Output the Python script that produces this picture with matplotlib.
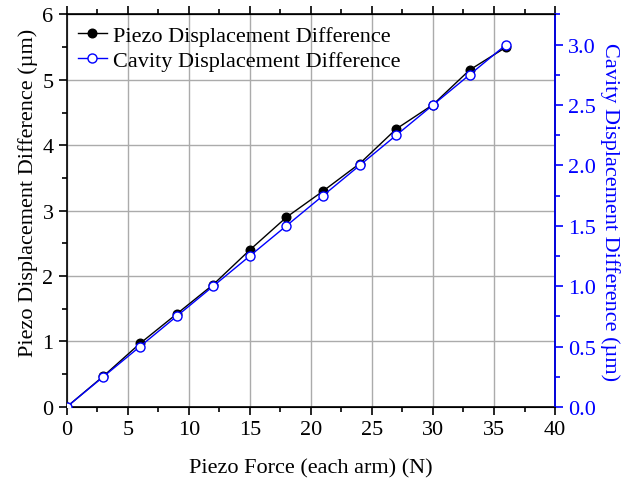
import matplotlib.pyplot as plt
from matplotlib.ticker import MultipleLocator

plt.rcParams['font.family'] = ['Liberation Serif', 'DejaVu Serif']
plt.rcParams['mathtext.fontset'] = 'stix'

# Data
force = [0, 3, 6, 9, 12, 15, 18, 21, 24, 27, 30, 33, 36]
piezo_disp = [0, 0.47, 0.97, 1.42, 1.87, 2.40, 2.90, 3.30, 3.72, 4.25, 4.62, 5.15, 5.50]
cavity_disp = [0, 0.25, 0.50, 0.75, 1.00, 1.25, 1.50, 1.75, 2.00, 2.25, 2.50, 2.75, 3.00]

fig = plt.figure(figsize=(6.3, 4.81), dpi=100)
ax = fig.add_axes([0.106, 0.152, 0.775, 0.816])
ax2 = ax.twinx()

ax.grid(True, color='#ababab', linewidth=1.0)
ax.set_axisbelow(True)

l1, = ax.plot(force, piezo_disp, color='black', linewidth=1.0, marker='o',
              markersize=6.2, markerfacecolor='black', markeredgecolor='black',
              label='Piezo Displacement Difference', zorder=3)
l2, = ax2.plot(force, cavity_disp, color='blue', linewidth=1.0, marker='o',
               markersize=6.5, markerfacecolor='white', markeredgecolor='blue',
               label='Cavity Displacement Difference', zorder=4)

ax.set_xlim(0, 40)
ax.set_ylim(0, 6)
ax2.set_ylim(0, 3.25)

ax.xaxis.set_major_locator(MultipleLocator(5))
ax.xaxis.set_minor_locator(MultipleLocator(2.5))
ax.yaxis.set_major_locator(MultipleLocator(1))
ax.yaxis.set_minor_locator(MultipleLocator(0.5))
ax2.yaxis.set_major_locator(MultipleLocator(0.5))
ax2.yaxis.set_minor_locator(MultipleLocator(0.25))
ax2.yaxis.set_major_formatter(plt.FormatStrFormatter('%.1f'))

ax.tick_params(axis='x', which='both', top=True, direction='out', labelsize=16)
ax.tick_params(which='major', length=6, width=1.2)
ax.tick_params(which='minor', length=3.5, width=1.2)
ax.tick_params(axis='y', labelsize=16)
ax2.tick_params(axis='y', which='both', colors='blue', labelsize=16, width=1.2)
ax2.tick_params(which='major', length=6)
ax2.tick_params(which='minor', length=3.5)

for s in ax.spines.values():
    s.set_linewidth(1.2)
ax2.spines['right'].set_color('blue')
ax2.spines['right'].set_linewidth(1.2)
ax2.spines['left'].set_visible(False)

ax.set_xlabel('Piezo Force (each arm) (N)', fontsize=16)
ax.xaxis.set_label_coords(0.5, -0.13)
ax.set_ylabel('Piezo Displacement Difference (µm)', fontsize=16)
ax.yaxis.set_label_coords(-0.058, 0.547)
ax2.set_ylabel('Cavity Displacement Difference (µm)', fontsize=16, color='blue',
               rotation=270)
ax2.yaxis.set_label_coords(1.133, 0.5)

ax2.legend(handles=[l1, l2], loc='upper left', frameon=False, fontsize=16,
           handlelength=1.3, handletextpad=0.3, borderaxespad=0.1, labelspacing=0.2)

fig.savefig('out.png', dpi=100)
